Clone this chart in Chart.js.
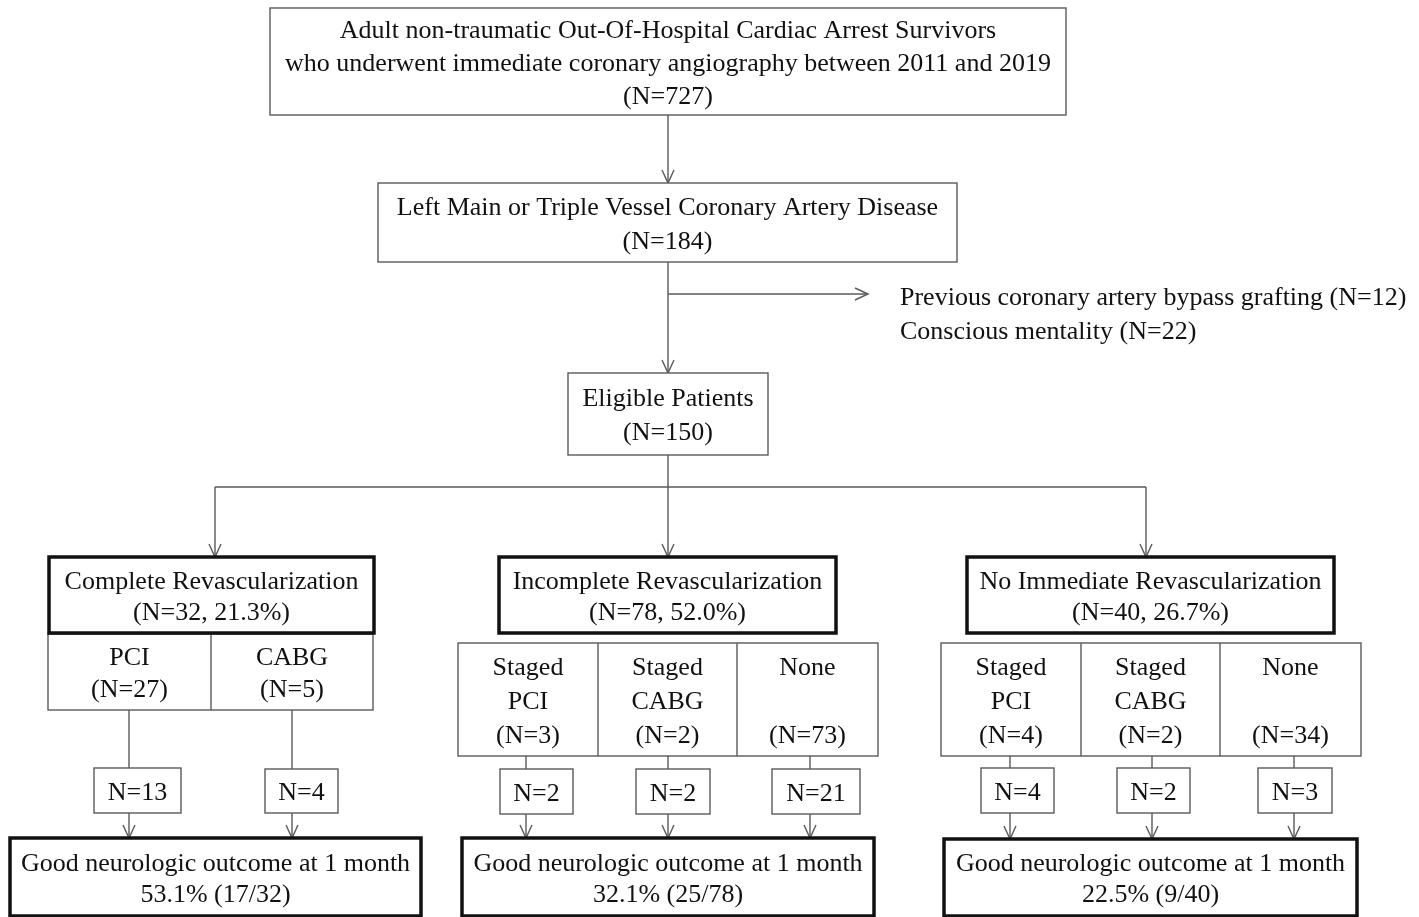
<!DOCTYPE html>
<html>
<head>
<meta charset="utf-8">
<script src="https://cdn.jsdelivr.net/npm/chart.js@4.4.1/dist/chart.umd.min.js"></script>
<style>
html, body { margin: 0; padding: 0; background: #fff; }
#flow { display: block; }
</style>
</head>
<body>
<canvas id="flow" width="1419" height="917"></canvas>
<script>
// counts
var cohortTitle = ["Adult non-traumatic Out-Of-Hospital Cardiac Arrest Survivors", "who underwent immediate coronary angiography between 2011 and 2019"];
var cohortN = 727;
var diseaseTitle = "Left Main or Triple Vessel Coronary Artery Disease";
var diseaseN = 184;
var excludedLabels = ["Previous coronary artery bypass grafting", "Conscious mentality"];
var excludedN = [12, 22];
var eligibleTitle = "Eligible Patients";
var eligibleN = 150;

var groups = ["Complete Revascularization", "Incomplete Revascularization", "No Immediate Revascularization"];
var groupN = [32, 78, 40];
var groupPct = ["21.3%", "52.0%", "26.7%"];

var subLabels = [["PCI", "CABG"], ["Staged|PCI", "Staged|CABG", "None|"], ["Staged|PCI", "Staged|CABG", "None|"]];
var subN = [[27, 5], [3, 2, 73], [4, 2, 34]];
var goodN = [[13, 4], [2, 2, 21], [4, 2, 3]];
var goodTitle = "Good neurologic outcome at 1 month";
var goodPct = ["53.1%", "32.1%", "22.5%"];
var goodTotal = [17, 25, 9];

// layout (diagram units = pixels of the 1419x917 picture)
var topBox = [270, 8, 1066, 115];
var diseaseBox = [378, 183, 957, 262];
var eligibleBox = [568, 373, 768, 455];
var mainX = 668;
var exclY = 294, exclTipX = 868, exclTextX = 900;
var branchY = 487;
var groupArrowX = [215, 668, 1146];
var groupBox = [[49, 557, 374, 633], [499, 557, 836, 633], [967, 557, 1334, 633]];
var subBox = [[48, 634, 373, 710], [458, 643, 878, 756], [941, 643, 1361, 756]];
var subSplit = [[211], [598, 737], [1081, 1220]];
var stemX = [[129, 292], [526, 668, 810], [1010, 1152, 1294]];
var smallBox = [
    [[94, 768, 181, 813], [265, 769, 338, 813]],
    [[500, 769, 573, 814], [636, 769, 710, 814], [772, 769, 860, 814]],
    [[981, 768, 1054, 813], [1117, 768, 1190, 813], [1258, 768, 1332, 813]]
];
var outBox = [[10, 838, 421, 916], [462, 838, 874, 916], [944, 839, 1357, 916]];

var LINE = "#5a5a5a";
var FONT = "26px 'Liberation Serif', 'Times New Roman', serif";

// connectors as line datasets, arrowheads at their last point
var connectors = [];
function seg(pts, arrow) { connectors.push({ pts: pts, arrow: arrow }); }
seg([[mainX, topBox[3]], [mainX, diseaseBox[1]]], "down");
seg([[mainX, diseaseBox[3]], [mainX, eligibleBox[1]]], "down");
seg([[mainX, exclY], [exclTipX, exclY]], "right");
seg([[mainX, eligibleBox[3]], [mainX, branchY]], null);
seg([[groupArrowX[0], branchY], [groupArrowX[2], branchY]], null);
groupArrowX.forEach(function (x, g) { seg([[x, branchY], [x, groupBox[g][1]]], "down"); });
stemX.forEach(function (row, g) {
    row.forEach(function (x, k) {
        seg([[x, subBox[g][3]], [x, smallBox[g][k][1]]], null);
        seg([[x, smallBox[g][k][3]], [x, outBox[g][1]]], "down");
    });
});

var datasets = connectors.map(function (c) {
    return {
        data: c.pts.map(function (p) { return { x: p[0], y: p[1] }; }),
        showLine: true, pointRadius: 0, borderColor: LINE, borderWidth: 1.4, clip: false
    };
});

var flowPlugin = {
    id: "flow",
    afterDatasetsDraw: function (chart) {
        var ctx = chart.ctx, xs = chart.scales.x, ys = chart.scales.y;
        function X(v) { return xs.getPixelForValue(v); }
        function Y(v) { return ys.getPixelForValue(v); }
        function box(b, thick) {
            ctx.save();
            ctx.fillStyle = "#fff";
            ctx.fillRect(X(b[0]), Y(b[1]), X(b[2]) - X(b[0]), Y(b[3]) - Y(b[1]));
            ctx.lineWidth = thick ? 3.5 : 1.4;
            ctx.strokeStyle = thick ? "#111" : LINE;
            ctx.strokeRect(X(b[0]), Y(b[1]), X(b[2]) - X(b[0]), Y(b[3]) - Y(b[1]));
            ctx.restore();
        }
        function text(lines, cx, cy, gap, align) {
            ctx.save();
            ctx.font = FONT;
            ctx.fillStyle = "#111";
            ctx.textAlign = align || "center";
            ctx.textBaseline = "middle";
            var y0 = cy - (lines.length - 1) * gap / 2;
            lines.forEach(function (s, i) { ctx.fillText(s, X(cx), Y(y0 + i * gap)); });
            ctx.restore();
        }
        function boxText(b, lines, gap) { text(lines, (b[0] + b[2]) / 2, (b[1] + b[3]) / 2 + 2.5, gap); }
        function arrow(x, y, dir) {
            ctx.save();
            ctx.strokeStyle = LINE; ctx.lineWidth = 1.4;
            ctx.beginPath();
            if (dir === "down") {
                ctx.moveTo(X(x) - 6, Y(y) - 13); ctx.lineTo(X(x), Y(y)); ctx.lineTo(X(x) + 6, Y(y) - 13);
            } else {
                ctx.moveTo(X(x) - 13, Y(y) - 6); ctx.lineTo(X(x), Y(y)); ctx.lineTo(X(x) - 13, Y(y) + 6);
            }
            ctx.stroke();
            ctx.restore();
        }
        connectors.forEach(function (c) {
            if (c.arrow) { var p = c.pts[c.pts.length - 1]; arrow(p[0], p[1], c.arrow); }
        });

        box(topBox, false);
        boxText(topBox, cohortTitle.concat(["(N=" + cohortN + ")"]), 33);
        box(diseaseBox, false);
        boxText(diseaseBox, [diseaseTitle, "(N=" + diseaseN + ")"], 34);
        text(excludedLabels.map(function (l, i) { return l + " (N=" + excludedN[i] + ")"; }), exclTextX, 315, 34, "left");
        box(eligibleBox, false);
        boxText(eligibleBox, [eligibleTitle, "(N=" + eligibleN + ")"], 34);

        groups.forEach(function (name, g) {
            // sub-treatment cells
            box(subBox[g], false);
            var edges = [subBox[g][0]].concat(subSplit[g], [subBox[g][2]]);
            ctx.save(); ctx.strokeStyle = LINE; ctx.lineWidth = 1.4;
            subSplit[g].forEach(function (sx) {
                ctx.beginPath(); ctx.moveTo(X(sx), Y(subBox[g][1])); ctx.lineTo(X(sx), Y(subBox[g][3])); ctx.stroke();
            });
            ctx.restore();
            subLabels[g].forEach(function (lab, k) {
                var cell = [edges[k], subBox[g][1], edges[k + 1], subBox[g][3]];
                var lines = lab.split("|").concat(["(N=" + subN[g][k] + ")"]);
                boxText(cell, lines, lines.length > 2 ? 34 : 32);
            });
            box(groupBox[g], true);
            boxText(groupBox[g], [name, "(N=" + groupN[g] + ", " + groupPct[g] + ")"], 31);
            smallBox[g].forEach(function (b, k) {
                box(b, false);
                boxText(b, ["N=" + goodN[g][k]], 0);
            });
            box(outBox[g], true);
            boxText(outBox[g], [goodTitle, goodPct[g] + " (" + goodTotal[g] + "/" + groupN[g] + ")"], 31);
        });
    }
};

var chart = new Chart(document.getElementById("flow").getContext("2d"), {
    type: "scatter",
    data: { datasets: datasets },
    options: {
        responsive: false,
        animation: false,
        devicePixelRatio: 1,
        layout: { padding: 0 },
        plugins: { legend: { display: false }, tooltip: { enabled: false } },
        scales: {
            x: { type: "linear", min: 0, max: 1419, display: false },
            y: { type: "linear", min: 0, max: 917, reverse: true, display: false }
        }
    },
    plugins: [flowPlugin]
});
</script>
</body>
</html>
